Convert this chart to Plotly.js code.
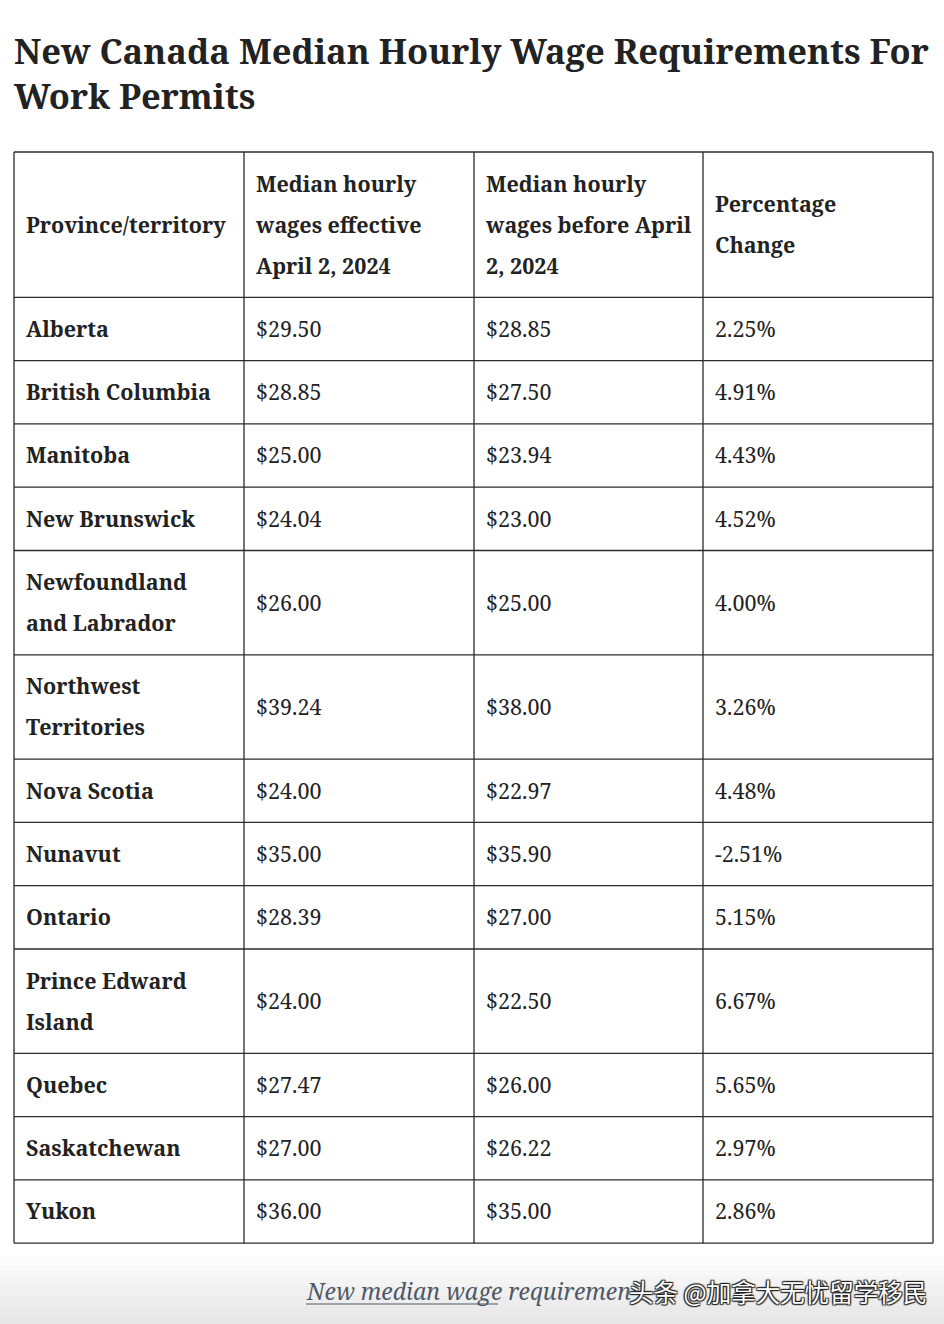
<!DOCTYPE html>
<html>
<head>
<meta charset="utf-8">
<script src="https://cdn.plot.ly/plotly-3.0.1.min.js"></script>
<style>
  body { margin: 0; background: #fff; }
  #chart { width: 944px; height: 1324px; }
</style>
</head>
<body>
<div id="chart"></div>
<script>
// table content ('<br>' = where the picture wraps)
var header_labels = ['Province/territory', 'Median hourly<br>wages effective<br>April 2, 2024',
                     'Median hourly<br>wages before April<br>2, 2024', 'Percentage<br>Change'];
var provinces = ['Alberta', 'British Columbia', 'Manitoba', 'New Brunswick', 'Newfoundland<br>and Labrador',
                 'Northwest<br>Territories', 'Nova Scotia', 'Nunavut', 'Ontario', 'Prince Edward<br>Island',
                 'Quebec', 'Saskatchewan', 'Yukon'];
var wage_new = [29.50, 28.85, 25.00, 24.04, 26.00, 39.24, 24.00, 35.00, 28.39, 24.00, 27.47, 27.00, 36.00];
var wage_old = [28.85, 27.50, 23.94, 23.00, 25.00, 38.00, 22.97, 35.90, 27.00, 22.50, 26.00, 26.22, 35.00];
var pct_change = [2.25, 4.91, 4.43, 4.52, 4.00, 3.26, 4.48, -2.51, 5.15, 6.67, 5.65, 2.97, 2.86];

var W = 944, H = 1324;
var col_x = [14, 244, 474, 703, 933];   // column borders
var table_top = 152;
var line_h = 41;
var row_pad = 11.15;
var text_pad = 12;
var text_nudge = 2.5;   // glyphs sit a little low in the cell

var serif = '"Noto Serif", "DejaVu Serif", serif';
var ink = '#222222';

function money(v){ return '$' + v.toFixed(2); }
function pct(v){ return v.toFixed(2) + '%'; }

// rows of cells (each cell = list of lines)
var rows = [header_labels.map(function(t){ return t.split('<br>'); })];
for (var i in provinces){
	rows.push([provinces[i].split('<br>'), [money(wage_new[i])], [money(wage_old[i])], [pct(pct_change[i])]]);
}

var shapes = [];
var bold_pts = {x: [], y: [], text: []};
var plain_pts = {x: [], y: [], text: []};
var row_borders = [table_top];
var y = table_top;
for (var r = 0; r < rows.length; r++){
	var n = Math.max.apply(null, rows[r].map(function(c){ return c.length; }));
	var h = 2 * row_pad + n * line_h;
	var mid = y + h / 2 + text_nudge;
	for (var c = 0; c < rows[r].length; c++){
		var lines = rows[r][c];
		var target = (r == 0 || c == 0) ? bold_pts : plain_pts;
		for (var k = 0; k < lines.length; k++){
			target.x.push(col_x[c] + text_pad);
			target.y.push(mid + (k - (lines.length - 1) / 2) * line_h);
			target.text.push(lines[k]);
		}
	}
	y += h;
	row_borders.push(y);
}
var table_bottom = y;

// grid lines
row_borders.forEach(function(yy){
	shapes.push({type: 'line', xref: 'x', yref: 'y', x0: col_x[0], x1: col_x[4], y0: yy, y1: yy,
	             line: {color: '#2b2b2b', width: 1.3}});
});
col_x.forEach(function(xx){
	shapes.push({type: 'line', xref: 'x', yref: 'y', x0: xx, x1: xx, y0: table_top, y1: table_bottom,
	             line: {color: '#2b2b2b', width: 1.3}});
});

// faint grey fade at the bottom of the screenshot
var fade = ['#fcfcfc', '#f8f8f8', '#f4f4f4', '#f0f0f0', '#ededed', '#eaeaea', '#e7e7e7'];
for (var f = 0; f < fade.length; f++){
	shapes.push({type: 'rect', xref: 'x', yref: 'y', x0: 0, x1: W, y0: 1256 + f * 10, y1: H,
	             fillcolor: fade[f], line: {width: 0}, layer: 'below'});
}
// underline of the link part
shapes.push({type: 'line', xref: 'x', yref: 'y', x0: 306, x1: 498, y0: 1304, y1: 1304,
             line: {color: '#4f5866', width: 1.2}});

var data = [
	{x: bold_pts.x, y: bold_pts.y, text: bold_pts.text, mode: 'text', type: 'scatter',
	 textposition: 'middle right', marker: {size: 0},
	 textfont: {family: serif, size: 21.5, color: ink, weight: 'bold'}, hoverinfo: 'skip'},
	{x: plain_pts.x, y: plain_pts.y, text: plain_pts.text, mode: 'text', type: 'scatter',
	 textposition: 'middle right', marker: {size: 0},
	 textfont: {family: serif, size: 21.5, color: ink}, hoverinfo: 'skip'}
];

var annotations = [
	{text: 'New Canada Median Hourly Wage Requirements For<br>Work Permits', x: 12, y: 73,
	 xref: 'x', yref: 'y', xanchor: 'left', yanchor: 'middle', align: 'left', showarrow: false,
	 font: {family: serif, size: 34.5, color: ink, weight: 'bold'}},
	{text: '<i>New median wage requiremen</i>', x: 304, y: 1291, xref: 'x', yref: 'y',
	 xanchor: 'left', yanchor: 'middle', showarrow: false,
	 font: {family: serif, size: 23, color: '#4f5866'}},
	{text: '头条 @加拿大无忧留学移民', x: 929, y: 1291, xref: 'x', yref: 'y',
	 xanchor: 'right', yanchor: 'middle', showarrow: false,
	 font: {family: '"Noto Sans CJK SC", sans-serif', size: 24.5, color: '#ffffff',
	        shadow: '1px 1px 1px #222, -1px -1px 1px #222, 1px -1px 1px #222, -1px 1px 1px #222'}}
];

var layout = {
	width: W, height: H,
	margin: {l: 0, r: 0, t: 0, b: 0},
	paper_bgcolor: '#ffffff', plot_bgcolor: '#ffffff',
	showlegend: false,
	xaxis: {range: [0, W], visible: false, fixedrange: true},
	yaxis: {range: [H, 0], visible: false, fixedrange: true},
	shapes: shapes,
	annotations: annotations
};
Plotly.newPlot('chart', data, layout, {staticPlot: true, displayModeBar: false});
</script>
</body>
</html>
